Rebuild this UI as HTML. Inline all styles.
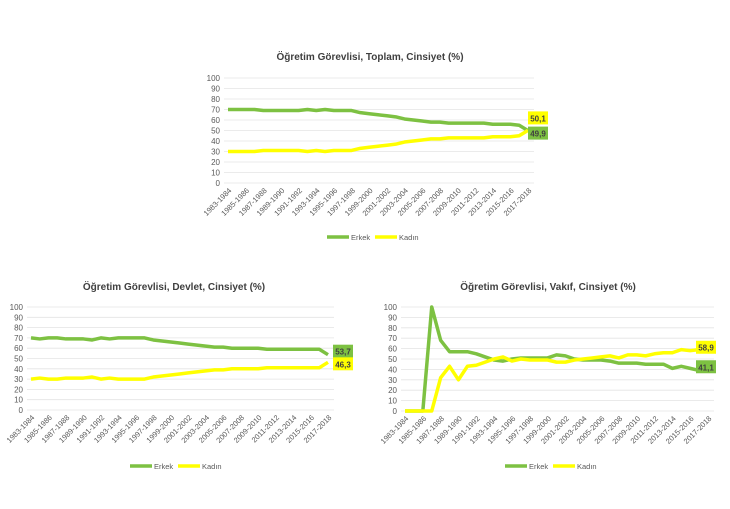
<!DOCTYPE html>
<html><head><meta charset="utf-8"><style>
body{margin:0;background:#fff;width:730px;height:509px;overflow:hidden;font-family:"Liberation Sans",sans-serif}
svg{position:absolute;left:0;top:0}
</style></head><body>
<svg id="c" width="730" height="509"></svg>
<script>
const categories=[];for(let y=1983;y<=2017;y++)categories.push(y+'-'+(y+1));
const yTicks=[0,10,20,30,40,50,60,70,80,90,100];
const toplamErkek=[70,70,70,70,69,69,69,69,69,70,69,70,69,69,69,67,66,65,64,63,61,60,59,58,58,57,57,57,57,57,56,56,56,55,49.9];
const toplamKadin=[30,30,30,30,31,31,31,31,31,30,31,30,31,31,31,33,34,35,36,37,39,40,41,42,42,43,43,43,43,43,44,44,44,45,50.1];
const devletErkek=[70,69,70,70,69,69,69,68,70,69,70,70,70,70,68,67,66,65,64,63,62,61,61,60,60,60,60,59,59,59,59,59,59,59,53.7];
const devletKadin=[30,31,30,30,31,31,31,32,30,31,30,30,30,30,32,33,34,35,36,37,38,39,39,40,40,40,40,41,41,41,41,41,41,41,46.3];
const vakifErkek=[0,0,0,100,68,57,57,57,55,52,49,48,50,51,51,51,51,54,53,50,49,49,49,48,46,46,46,45,45,45,41,43,41,39,41.1];
const vakifKadin=[0,0,0,0,32,43,30,43,44,47,50,52,48,50,49,49,49,47,47,49,50,51,52,53,51,54,54,53,55,56,56,59,58,59,58.9];
const NS='http://www.w3.org/2000/svg';const svg=document.getElementById('c');
function mk(t,a,p){const e=document.createElementNS(NS,t);for(const k in a)e.setAttribute(k,a[k]);(p||svg).appendChild(e);return e;}
const G='#7dc142',Y='#ffff00';
function chart(o){
 const g=mk('g',{});
 
 
 const sx=i=>o.x0+(o.x1-o.x0)*i/(categories.length-1);
 const sy=v=>o.y0-(o.y0-o.y1)*v/100;
 const t=mk('text',{x:o.tx,y:o.ty,'font-size':10,'font-weight':'bold','text-anchor':'middle',fill:'#404040'},g);t.textContent=o.title;
 
 yTicks.forEach(v=>{
  const l=mk('line',{x1:o.x0-4,x2:o.x1+6,y1:sy(v),y2:sy(v),stroke:'#e4e4e4','stroke-width':0.8},g);
  
  const tt=mk('text',{x:o.x0-8,y:sy(v)+3,'font-size':8,'text-anchor':'end',fill:'#595959'},g);tt.textContent=v;
  
 });
 categories.forEach((c,i)=>{if(i%2)return;
  const tt=mk('text',{x:sx(i)+4,y:o.y0+8,'font-size':7.5,'text-anchor':'end',fill:'#595959',transform:`rotate(-45 ${sx(i)+4} ${o.y0+8})`},g);tt.textContent=c;
  
 });
 [[o.e,G,'erkek-line'],[o.k,Y,'kadin-line']].forEach(([d,col,n])=>{
  const p=mk('polyline',{points:d.map((v,i)=>sx(i)+','+sy(v)).join(' '),fill:'none',stroke:col,'stroke-width':3.5,'stroke-linejoin':'round'},g);
  
 });
 const n=categories.length-1;
 [[o.e,G,o.eo],[o.k,Y,o.ko]].forEach(([d,col,off])=>{
  const v=d[n];const bx=sx(n)+o.lx,by=sy(v)+off;
  const r=mk('rect',{x:bx,y:by-7,width:20,height:13,fill:col},g);
  
  const tt=mk('text',{x:bx+10,y:by+3,'font-size':8,'font-weight':'bold','text-anchor':'middle',fill:'#404040'},g);tt.textContent=String(v).replace('.',',');
  
 });
 [[G,'Erkek',0],[Y,'Kadın',48]].forEach(([col,l,dx])=>{
  const lx=o.lgx+dx;
  const ln=mk('line',{x1:lx,x2:lx+22,y1:o.lgy,y2:o.lgy,stroke:col,'stroke-width':3.5},g);
  
  const tt=mk('text',{x:lx+24,y:o.lgy+3,'font-size':7.5,fill:'#595959'},g);tt.textContent=l;
  
 });
}
chart({name:'toplam-chart',title:'Öğretim Görevlisi, Toplam, Cinsiyet (%)',tx:370,ty:60,x0:228,x1:528,y0:183,y1:78,e:toplamErkek,k:toplamKadin,lx:0,eo:3,ko:-12,lgx:327,lgy:237});
chart({name:'devlet-chart',title:'Öğretim Görevlisi, Devlet, Cinsiyet (%)',tx:174,ty:290,x0:31,x1:328,y0:410,y1:307,e:devletErkek,k:devletKadin,lx:5,eo:-3,ko:2,lgx:130,lgy:466});
chart({name:'vakif-chart',title:'Öğretim Görevlisi, Vakıf, Cinsiyet (%)',tx:548,ty:290,x0:405,x1:708,y0:411,y1:307,e:vakifErkek,k:vakifKadin,lx:-12,eo:-1,ko:-2,lgx:505,lgy:466});
</script>
</body></html>
